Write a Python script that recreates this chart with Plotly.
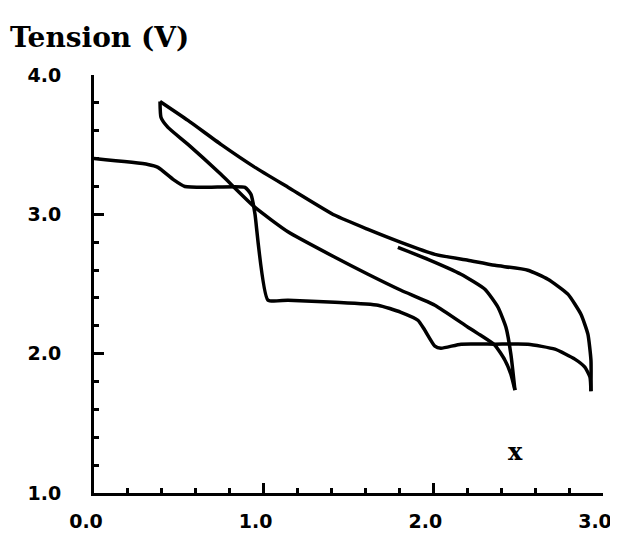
import plotly.graph_objects as go

# Curve A: first discharge with plateaus
a_x = [0.0, 0.318, 0.377, 0.466, 0.536, 0.672, 0.890, 0.925, 0.937, 0.949, 1.025, 1.143,
       1.420, 1.674, 1.809, 1.909, 1.950, 2.009, 2.045, 2.163, 2.363, 2.557, 2.717, 2.834,
       2.893, 2.923, 2.929]
a_y = [3.40, 3.358, 3.337, 3.251, 3.20, 3.194, 3.194, 3.143, 3.086, 3.0, 2.384, 2.384,
       2.369, 2.348, 2.297, 2.240, 2.168, 2.054, 2.039, 2.068, 2.068, 2.068, 2.032, 1.961,
       1.903, 1.832, 1.731]

# Curve B: upper branch from 0.4 to 2.93
b_x = [0.389, 0.554, 0.748, 0.949, 1.143, 1.420, 1.615, 1.809, 2.009, 2.204,
       2.363, 2.557, 2.675, 2.793, 2.870, 2.911, 2.929, 2.929]
b_y = [3.810, 3.674, 3.502, 3.337, 3.195, 2.993, 2.892, 2.799, 2.713, 2.670,
       2.634, 2.599, 2.534, 2.427, 2.283, 2.140, 1.953, 1.731]

# Curve C: lower branch from 0.4 to 2.48
c_x = [0.389, 0.395, 0.436, 0.554, 0.748, 0.949, 1.143, 1.420, 1.615, 1.809, 2.009,
       2.204, 2.263, 2.363, 2.422, 2.457, 2.481]
c_y = [3.810, 3.695, 3.624, 3.502, 3.287, 3.050, 2.875, 2.692, 2.570, 2.455, 2.348,
       2.190, 2.144, 2.061, 1.953, 1.853, 1.738]

# Curve D: short branch from 1.8 to 2.48
d_x = [1.791, 1.968, 2.163, 2.304, 2.381, 2.428, 2.457, 2.481]
d_y = [2.763, 2.677, 2.570, 2.462, 2.333, 2.190, 1.996, 1.738]

x_ticks = [0.0, 1.0, 2.0, 3.0]
x_tick_text = ["0.0", "1.0", "2.0", "3.0"]
y_ticks = [1.0, 2.0, 3.0, 4.0]
y_tick_text = ["1.0", "2.0", "3.0", "4.0"]

fig = go.Figure()
for xs, ys in [(a_x, a_y), (b_x, b_y), (c_x, c_y), (d_x, d_y)]:
    fig.add_trace(go.Scatter(x=xs, y=ys, mode="lines",
                             line=dict(color="black", width=3.5, shape="spline", smoothing=0.5),
                             showlegend=False, hoverinfo="skip"))

tickfont = dict(family="DejaVu Sans", size=19, color="black", weight="bold")

fig.update_xaxes(range=[0, 3], showgrid=False, zeroline=False, showline=True,
                 linecolor="black", linewidth=3, ticks="inside", ticklen=10, tickwidth=2.5,
                 tickcolor="black", tickvals=x_ticks, ticktext=x_tick_text, tickfont=tickfont,
                 ticklabelstandoff=9, ticklabelshift=-8,
                 minor=dict(dtick=0.2, tick0=0, ticks="inside", ticklen=5, tickwidth=2.5,
                            tickcolor="black", showgrid=False))
fig.update_yaxes(range=[1, 4], showgrid=False, zeroline=False, showline=True,
                 linecolor="black", linewidth=3, ticks="inside", ticklen=10, tickwidth=2.5,
                 tickcolor="black", tickvals=y_ticks, ticktext=y_tick_text, tickfont=tickfont,
                 ticklabelstandoff=26,
                 minor=dict(dtick=0.2, tick0=0, ticks="inside", ticklen=5, tickwidth=2.5,
                            tickcolor="black", showgrid=False))

fig.add_annotation(text="Tension (V)", xref="paper", yref="paper", x=-86/509, y=1 + 38/418,
                   xanchor="left", yanchor="middle", showarrow=False,
                   font=dict(family="DejaVu Serif", size=28, color="black", weight="bold"))
fig.add_annotation(text="x", xref="x", yref="y", x=2.487, y=1.30, showarrow=False,
                   font=dict(family="DejaVu Serif", size=24, color="black", weight="bold"))

fig.update_layout(width=618, height=541, margin=dict(l=86, r=23, t=67, b=56),
                  plot_bgcolor="white", paper_bgcolor="white")

fig.write_html("out.html")
